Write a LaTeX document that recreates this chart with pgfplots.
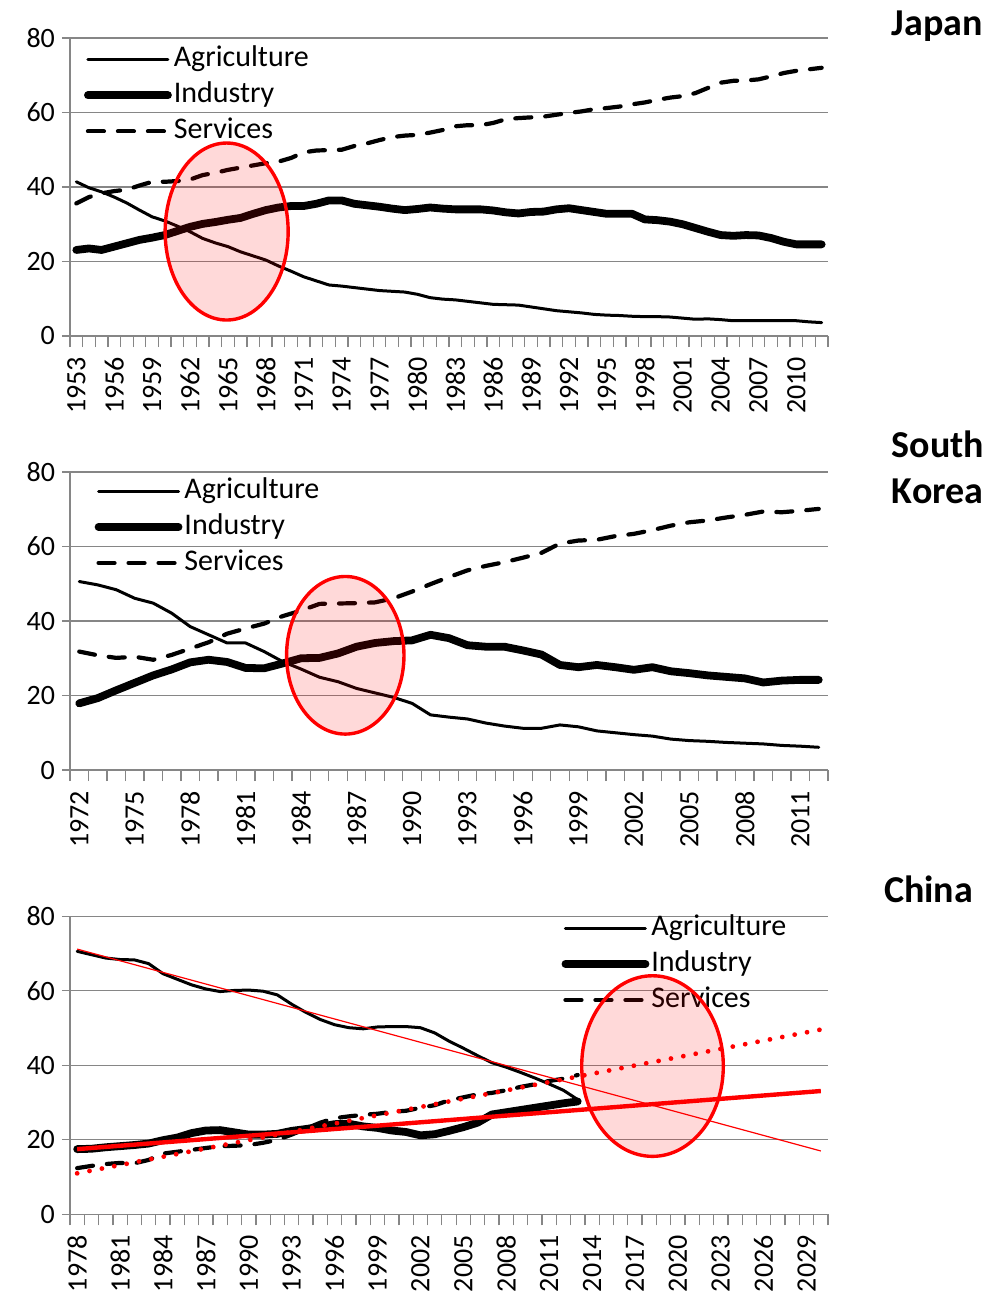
\documentclass[border=0pt]{standalone}
\usepackage{fontspec}
\setmainfont{Carlito}
\usepackage{pgfplots}
\pgfplotsset{compat=1.18}

\definecolor{gridgray}{RGB}{134,134,134}

\pgfplotsset{
  sector/.style={
    scale only axis, width=379pt, height=149pt,
    ymin=0, ymax=80, ytick={0,20,40,60,80},
    ymajorgrids, major grid style={gridgray, line width=0.65pt},
    axis x line*=bottom, axis y line*=left,
    axis line style={gridgray, line width=0.65pt, -},
    tick align=outside,
    major tick length=4pt, minor tick length=5.5pt,
    tick style={gridgray, line width=0.65pt},
    major x tick style={draw=none},
    xtick pos=bottom, ytick pos=left,
    tick label style={font=\fontsize{14}{16}\selectfont,
      /pgf/number format/assume math mode=true,
      /pgf/number format/1000 sep={}},
    xticklabel style={rotate=90, anchor=east},
    xticklabel shift=3pt,
    clip=false,
    legend style={draw=none, fill=none, anchor=north west,
      font=\fontsize{15}{18}\selectfont, row sep=1.5pt, inner sep=0pt,
      nodes={inner sep=1pt, text height=11pt, text depth=3.5pt}},
    legend cell align=left,
    legend image code/.code={\draw[##1] (0pt,0pt) -- (40pt,0pt);},
  },
  agri/.style={black, line width=1.5pt, line cap=round, line join=round},
  ind/.style={black, line width=3.9pt, line cap=round, line join=round},
  serv/.style={black, line width=2.1pt, line cap=round, dash pattern=on 8pt off 7pt},
}
\tikzset{
  ring/.style={red, line width=1.7pt, fill=red, fill opacity=0.15},
  ttl/.style={anchor=west, font=\bfseries\fontsize{19}{23}\selectfont, align=left},
}

\pgfplotstableread{
year agri ind serv
1953 41.4 23.1 35.6
1954 39.8 23.5 37.3
1955 38.7 23.1 38.3
1956 37.3 24.0 38.9
1957 35.7 24.9 39.3
1958 33.8 25.8 40.4
1959 32.0 26.4 41.4
1960 30.9 27.1 41.4
1961 29.5 28.2 41.6
1962 28.0 29.3 42.0
1963 26.2 30.1 43.2
1964 25.0 30.6 43.8
1965 24.0 31.2 44.6
1966 22.6 31.7 45.2
1967 21.5 32.8 45.8
1968 20.4 33.8 46.4
1969 18.8 34.5 46.8
1970 17.4 34.9 47.8
1971 15.9 34.9 49.3
1972 14.8 35.5 49.8
1973 13.7 36.4 49.9
1974 13.4 36.4 50.0
1975 13.0 35.5 51.0
1976 12.6 35.1 51.7
1977 12.2 34.7 52.6
1978 12.0 34.2 53.4
1979 11.8 33.8 53.8
1980 11.2 34.1 54.0
1981 10.3 34.5 54.6
1982 9.9 34.2 55.3
1983 9.7 34.0 56.3
1984 9.3 34.0 56.6
1985 8.9 34.0 56.6
1986 8.5 33.7 57.2
1987 8.4 33.2 58.2
1988 8.3 32.9 58.5
1989 7.8 33.3 58.7
1990 7.3 33.4 58.9
1991 6.8 34.0 59.4
1992 6.5 34.3 59.9
1993 6.2 33.8 60.3
1994 5.8 33.3 60.9
1995 5.6 32.8 61.2
1996 5.5 32.8 61.6
1997 5.3 32.8 62.2
1998 5.2 31.3 62.7
1999 5.2 31.1 63.4
2000 5.1 30.7 64.0
2001 4.8 30.0 64.4
2002 4.5 29.0 65.2
2003 4.6 28.0 66.6
2004 4.4 27.1 68.0
2005 4.1 26.9 68.5
2006 4.1 27.1 68.6
2007 4.1 27.0 68.9
2008 4.1 26.3 69.7
2009 4.1 25.3 70.6
2010 4.1 24.6 71.2
2011 3.8 24.6 71.6
2012 3.6 24.6 72.0
}\japan

\pgfplotstableread{
year agri ind serv
1972 50.6 17.9 31.8
1973 49.7 19.3 30.8
1974 48.4 21.4 30.1
1975 46.1 23.4 30.4
1976 44.8 25.4 29.6
1977 42.1 27.0 30.9
1978 38.5 28.9 32.6
1979 36.3 29.6 34.3
1980 34.1 29.0 36.6
1981 34.1 27.4 38.0
1982 31.8 27.3 39.3
1983 29.1 28.6 41.3
1984 27.1 30.0 42.8
1985 24.9 30.1 44.6
1986 23.7 31.3 44.7
1987 21.9 33.1 44.8
1988 20.7 34.1 45.0
1989 19.5 34.6 46.1
1990 17.9 34.8 47.9
1991 14.8 36.3 49.9
1992 14.2 35.4 51.8
1993 13.7 33.5 53.6
1994 12.6 33.1 54.8
1995 11.8 33.1 55.8
1996 11.2 32.1 57.0
1997 11.2 31.0 58.3
1998 12.1 28.2 60.8
1999 11.6 27.6 61.6
2000 10.5 28.2 61.8
2001 10.0 27.6 62.8
2002 9.5 26.9 63.4
2003 9.1 27.6 64.4
2004 8.3 26.5 65.6
2005 7.9 26.0 66.5
2006 7.7 25.4 67.0
2007 7.4 25.0 67.8
2008 7.2 24.6 68.5
2009 7.0 23.5 69.4
2010 6.6 24.0 69.2
2011 6.4 24.2 69.6
2012 6.1 24.2 70.1
}\korea

\pgfplotstableread{
year agri ind serv
1978 70.6 17.5 12.4
1979 69.7 17.6 13.0
1980 68.8 18.0 13.5
1981 68.4 18.3 13.8
1982 68.3 18.6 13.7
1983 67.3 19.0 14.6
1984 64.6 19.9 16.3
1985 63.1 20.6 16.8
1986 61.6 21.8 17.3
1987 60.5 22.5 17.8
1988 59.8 22.6 18.3
1989 60.1 22.0 18.4
1990 60.2 21.4 18.6
1991 59.9 21.4 19.2
1992 58.9 21.6 20.0
1993 56.4 22.4 21.4
1994 54.2 22.9 23.0
1995 52.3 23.5 24.6
1996 50.9 24.2 25.8
1997 50.1 24.3 26.3
1998 49.8 23.6 26.7
1999 50.3 23.2 27.0
2000 50.4 22.5 27.5
2001 50.4 22.1 27.8
2002 50.1 21.2 28.6
2003 48.7 21.5 29.3
2004 46.5 22.4 30.6
2005 44.6 23.4 31.4
2006 42.6 24.6 32.2
2007 40.7 26.8 32.6
2008 39.5 27.4 33.3
2009 38.1 28.0 34.2
2010 36.6 28.6 34.9
2011 35.0 29.2 35.8
2012 33.3 29.8 36.4
2013 30.8 30.3 37.4
}\china

\begin{document}
\begin{tikzpicture}
\path[use as bounding box] (0pt,0pt) rectangle (495.5pt,-648.5pt);

% Japan
\begin{axis}[sector, at={(35pt,-168pt)}, anchor=south west,
  xmin=1952.5, xmax=2012.5,
  xtick={1953,1956,...,2010}, minor xtick={1952.5,1953.5,...,2012.5},
  legend style={at={(0.018,0.985)}}]
\addplot[agri] table[x=year,y=agri] {\japan};
\addlegendentry{Agriculture}
\addplot[ind] table[x=year,y=ind] {\japan};
\addlegendentry{Industry}
\addplot[serv] table[x=year,y=serv] {\japan};
\addlegendentry{Services}
\coordinate (eJ) at (axis cs:1964.9,28.05);
\node[ttl] at (rel axis cs:1.075,1.041) {Japan};
\end{axis}
\draw[ring] (eJ) ellipse [x radius=30.75pt, y radius=44.25pt];

% South Korea
\begin{axis}[sector, at={(35pt,-385pt)}, anchor=south west,
  xmin=1971.5, xmax=2012.5,
  xtick={1972,1975,...,2011}, minor xtick={1971.5,1972.5,...,2012.5},
  legend style={at={(0.032,0.993)}}]
\addplot[agri] table[x=year,y=agri] {\korea};
\addlegendentry{Agriculture}
\addplot[ind] table[x=year,y=ind] {\korea};
\addlegendentry{Industry}
\addplot[serv] table[x=year,y=serv] {\korea};
\addlegendentry{Services}
\coordinate (eK) at (axis cs:1986.39,30.8);
\node[ttl] at (rel axis cs:1.075,1.015) {South\\Korea};
\end{axis}
\draw[ring] (eK) ellipse [x radius=29.35pt, y radius=39.4pt];

% China
\begin{axis}[sector, at={(35pt,-607.15pt)}, anchor=south west,
  xmin=1977.5, xmax=2030.5,
  xtick={1978,1981,...,2029}, minor xtick={1977.5,1978.5,...,2030.5},
  legend style={at={(0.648,1.0175)}}]
\addplot[agri] table[x=year,y=agri] {\china};
\addlegendentry{Agriculture}
\addplot[ind] table[x=year,y=ind] {\china};
\addlegendentry{Industry}
\addplot[serv] table[x=year,y=serv] {\china};
\addlegendentry{Services}
\addplot[forget plot, red, line width=0.6pt] coordinates {(1978,71.2) (2030,17.0)};
\addplot[forget plot, red, line width=2.2pt] coordinates {(1978,17.5) (2030,33.1)};
\addplot[forget plot, red, line width=2.4pt, line cap=round, dash pattern=on 0pt off 6.3pt] coordinates {(1978,11.0) (2030,49.6)};
\coordinate (eC) at (axis cs:2018.23,39.8);
\node[ttl] at (rel axis cs:1.0646,1.09) {China};
\end{axis}
\draw[ring] (eC) ellipse [x radius=35.4pt, y radius=45.15pt];
\end{tikzpicture}
\end{document}
